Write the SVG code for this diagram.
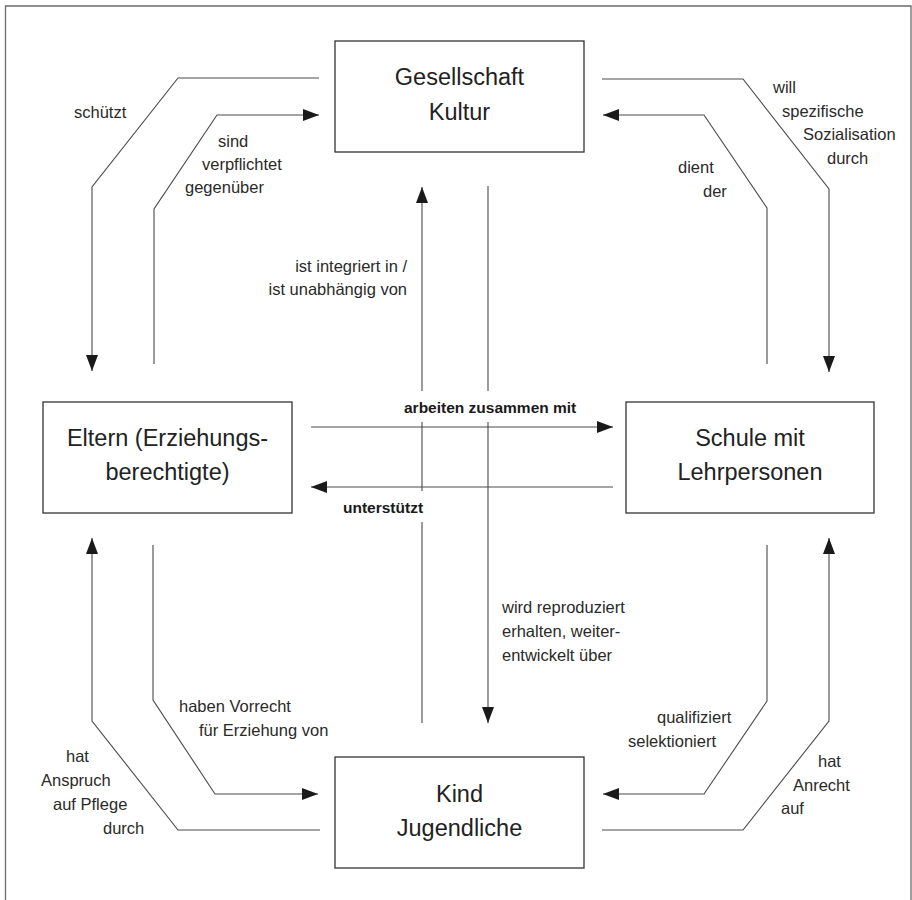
<svg xmlns="http://www.w3.org/2000/svg" width="912" height="900" viewBox="0 0 912 900">
  <style>
    .frame { fill: none; stroke: #6a6a6a; stroke-width: 1.3; }
    .box { fill: #ffffff; stroke: #333333; stroke-width: 1.3; }
    .node-text { font-family: "Liberation Sans", Arial, sans-serif; font-size: 23.5px; fill: #222222; text-anchor: middle; }
    .conn { fill: none; stroke: #4a4a4a; stroke-width: 1.1; }
    .lbl { font-family: "Liberation Sans", Arial, sans-serif; font-size: 16.5px; fill: #2a2a2a; }
    .lbl-b { font-family: "Liberation Sans", Arial, sans-serif; font-size: 15.5px; font-weight: bold; fill: #1a1a1a; }
  </style>
  <defs>
    <marker id="arrow" viewBox="0 0 16 12" refX="16" refY="6" markerWidth="16" markerHeight="12" markerUnits="userSpaceOnUse" orient="auto">
      <path d="M0,0 L16,6 L0,12 Z" fill="#1a1a1a"/>
    </marker>
  </defs>

  <rect width="912" height="900" fill="#ffffff"/>

  <!-- open frame: left, top and right edges -->
  <path class="frame" d="M5.5,900 V6 H911 V900"/>

  <!-- connectors -->
  <g id="connectors">
    <!-- schützt -->
    <polyline class="conn" points="319,78 178,78 92,187 92,371" marker-end="url(#arrow)"/>
    <!-- sind verpflichtet gegenüber -->
    <polyline class="conn" points="154,364 154,209 217,115 319,115" marker-end="url(#arrow)"/>
    <!-- will spezifische Sozialisation durch -->
    <polyline class="conn" points="602,79 743,79 829,189 829,372" marker-end="url(#arrow)"/>
    <!-- dient der -->
    <polyline class="conn" points="767,364 767,208 704,115 603,115" marker-end="url(#arrow)"/>
    <!-- ist integriert in / ist unabhängig von (upward, broken at labels) -->
    <line class="conn" x1="422" y1="723" x2="422" y2="522"/>
    <line class="conn" x1="422" y1="491" x2="422" y2="422"/>
    <line class="conn" x1="422" y1="391" x2="422" y2="187" marker-end="url(#arrow)"/>
    <!-- wird reproduziert (downward, broken at label) -->
    <line class="conn" x1="488" y1="186" x2="488" y2="391"/>
    <line class="conn" x1="488" y1="422" x2="488" y2="723" marker-end="url(#arrow)"/>
    <!-- arbeiten zusammen mit -->
    <line class="conn" x1="311" y1="427" x2="613" y2="427" marker-end="url(#arrow)"/>
    <!-- unterstützt -->
    <line class="conn" x1="613" y1="487" x2="311" y2="487" marker-end="url(#arrow)"/>
    <!-- haben Vorrecht für Erziehung von -->
    <polyline class="conn" points="153,545 153,700 215,794 318,794" marker-end="url(#arrow)"/>
    <!-- hat Anspruch auf Pflege durch -->
    <polyline class="conn" points="320,830 178,830 92,721 92,538" marker-end="url(#arrow)"/>
    <!-- qualifiziert selektioniert -->
    <polyline class="conn" points="767,545 767,701 704,794 603,794" marker-end="url(#arrow)"/>
    <!-- hat Anrecht auf -->
    <polyline class="conn" points="602,830 743,830 829,721 829,538" marker-end="url(#arrow)"/>
  </g>

  <!-- connector labels -->
  <g id="labels">
    <text class="lbl" x="74" y="118">schützt</text>
    <text class="lbl" x="218" y="147">sind</text>
    <text class="lbl" x="202" y="170">verpflichtet</text>
    <text class="lbl" x="185" y="193">gegenüber</text>

    <text class="lbl" x="407" y="272" text-anchor="end">ist integriert in /</text>
    <text class="lbl" x="407" y="295" text-anchor="end">ist unabhängig von</text>

    <text class="lbl" x="773" y="93">will</text>
    <text class="lbl" x="782" y="117">spezifische</text>
    <text class="lbl" x="803" y="140">Sozialisation</text>
    <text class="lbl" x="827" y="164">durch</text>

    <text class="lbl" x="678" y="173">dient</text>
    <text class="lbl" x="703" y="197">der</text>

    <text class="lbl-b" x="404" y="413">arbeiten zusammen mit</text>
    <text class="lbl-b" x="343" y="513">unterstützt</text>

    <text class="lbl" x="502" y="613">wird reproduziert</text>
    <text class="lbl" x="502" y="637">erhalten, weiter-</text>
    <text class="lbl" x="502" y="661">entwickelt über</text>

    <text class="lbl" x="179" y="712">haben Vorrecht</text>
    <text class="lbl" x="199" y="736">für Erziehung von</text>

    <text class="lbl" x="66" y="762">hat</text>
    <text class="lbl" x="41" y="786">Anspruch</text>
    <text class="lbl" x="53" y="810">auf Pflege</text>
    <text class="lbl" x="103" y="834">durch</text>

    <text class="lbl" x="657" y="723">qualifiziert</text>
    <text class="lbl" x="628" y="747">selektioniert</text>

    <text class="lbl" x="818" y="767">hat</text>
    <text class="lbl" x="793" y="791">Anrecht</text>
    <text class="lbl" x="781" y="814">auf</text>
  </g>

  <!-- nodes -->
  <g id="gesellschaft">
    <rect class="box" x="335" y="41" width="249" height="111"/>
    <text class="node-text" x="459.5" y="85">Gesellschaft</text>
    <text class="node-text" x="459.5" y="120">Kultur</text>
  </g>
  <g id="eltern">
    <rect class="box" x="43" y="402" width="249" height="111"/>
    <text class="node-text" x="167.5" y="446">Eltern (Erziehungs-</text>
    <text class="node-text" x="167.5" y="480">berechtigte)</text>
  </g>
  <g id="schule">
    <rect class="box" x="626" y="402" width="248" height="111"/>
    <text class="node-text" x="750" y="446">Schule mit</text>
    <text class="node-text" x="750" y="480">Lehrpersonen</text>
  </g>
  <g id="kind">
    <rect class="box" x="335" y="757" width="249" height="111"/>
    <text class="node-text" x="459.5" y="802">Kind</text>
    <text class="node-text" x="459.5" y="836">Jugendliche</text>
  </g>
</svg>
